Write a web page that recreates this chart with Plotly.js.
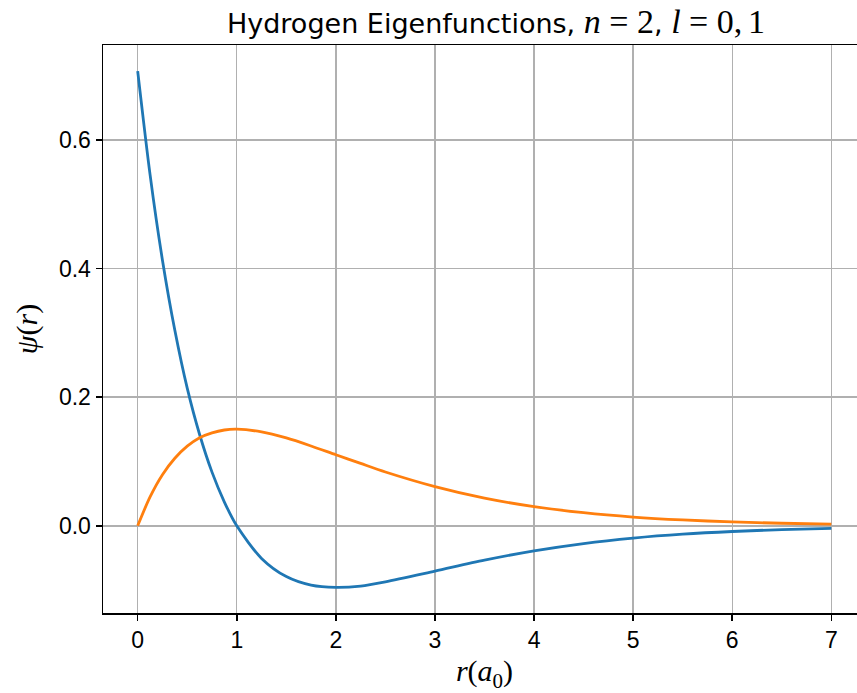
<!DOCTYPE html>
<html>
<head>
<meta charset="utf-8">
<script src="https://cdn.plot.ly/plotly-3.0.1.min.js"></script>
<style>
html,body{margin:0;padding:0;overflow:hidden;background:#fff;width:857px;height:693px;}
#chart{width:866px;height:693px;}
</style>
</head>
<body>
<div id="chart"></div>
<script>
// r values (units of a0) where curves were read
const rVals = [0, 0.125, 0.25, 0.375, 0.5, 0.625, 0.75, 0.875, 1.0, 1.25, 1.5, 1.75, 2.0, 2.25, 2.5, 3.0, 3.5, 4.0, 4.5, 5.0, 5.5, 6.0, 6.5, 7.0];
// l = 0 (blue)
const psiL0 = [0.707, 0.546, 0.413, 0.304, 0.214, 0.142, 0.0835, 0.037, 0.0, -0.0506, -0.0789, -0.0922, -0.0957, -0.0936, -0.0870, -0.0704, -0.0534, -0.0389, -0.0275, -0.0191, -0.0130, -0.0088, -0.0059, -0.0039];
// l = 1 (orange)
const psiL1 = [0.0, 0.045, 0.0795, 0.105, 0.1238, 0.137, 0.1446, 0.149, 0.1502, 0.1461, 0.1366, 0.1241, 0.1105, 0.097, 0.0837, 0.0610, 0.0431, 0.0299, 0.0204, 0.0137, 0.0092, 0.0061, 0.0040, 0.0026];
const xTicks = [0, 1, 2, 3, 4, 5, 6, 7];
const yTicks = [0.0, 0.2, 0.4, 0.6];

const sans = 'Liberation Sans, Arial, sans-serif';
const serif = 'Liberation Serif, serif';

const traces = [
  {x: rVals, y: psiL0, mode: 'lines', line: {color: '#1f77b4', width: 2.8, shape: 'spline', smoothing: 0.8}, showlegend: false, hoverinfo: 'skip'},
  {x: rVals, y: psiL1, mode: 'lines', line: {color: '#ff7f0e', width: 2.8, shape: 'spline', smoothing: 0.8}, showlegend: false, hoverinfo: 'skip'}
];

const m = s => '<span style="font-family:Liberation Serif;font-size:34px">' + s + '</span>';
const layout = {
  width: 866, height: 693,
  margin: {l: 103, r: 0, t: 45, b: 80},
  paper_bgcolor: '#fff', plot_bgcolor: '#fff',
  title: {
    text: 'Hydrogen Eigenfunctions, ' + m('<i>n</i>\u2005=\u20052') + ', ' + m('<i>l</i>\u2005=\u20050,\u20061'),
    font: {family: 'DejaVu Sans, sans-serif', size: 27, color: '#000'},
    x: 0.515, xref: 'paper', xanchor: 'center', y: 1, yref: 'container', yanchor: 'top', pad: {t: 14}
  },
  xaxis: {
    range: [-0.35, 7.35], tickvals: xTicks, ticktext: xTicks.map(String),
    showgrid: true, gridcolor: '#b0b0b0', gridwidth: 1.4,
    zeroline: false, showline: true, mirror: true, linecolor: '#000', linewidth: 1.5,
    ticks: 'outside', ticklen: 6, tickwidth: 1.5, tickcolor: '#000',
    tickfont: {family: sans, size: 23, color: '#000'},
    title: {text: '<i>r</i>(<i>a</i><sub>0</sub>)', font: {family: serif, size: 30, color: '#000'}, standoff: 8}
  },
  yaxis: {
    range: [-0.1355, 0.7475], tickvals: yTicks, ticktext: yTicks.map(v => v.toFixed(1)),
    showgrid: true, gridcolor: '#b0b0b0', gridwidth: 1.4,
    zeroline: false, showline: true, mirror: true, linecolor: '#000', linewidth: 1.5,
    ticks: 'outside', ticklen: 6, tickwidth: 1.5, tickcolor: '#000',
    tickfont: {family: sans, size: 23, color: '#000'},
    title: {text: '<i>ψ</i>(<i>r</i>)', font: {family: serif, size: 30, color: '#000'}, standoff: 12}
  }
};

Plotly.newPlot('chart', traces, layout, {displayModeBar: false, staticPlot: true});
</script>
</body>
</html>
